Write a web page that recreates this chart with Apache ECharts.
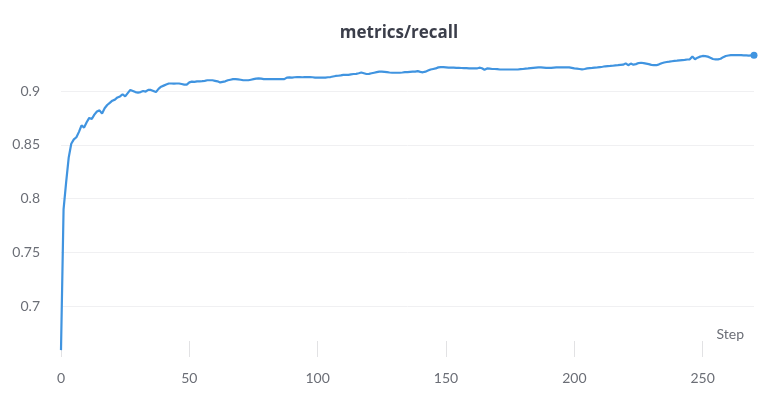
<!DOCTYPE html>
<html>
<head>
<meta charset="utf-8">
<script src="https://cdn.jsdelivr.net/npm/echarts@6/dist/echarts.min.js"></script>
<style>
html,body{margin:0;padding:0;background:#fff;}
#chart{width:768px;height:402px;}
</style>
</head>
<body>
<div id="chart"></div>
<script>
const chartTitle = "metrics/recall";
const xAxisName = "Step";
const xTicks = [0, 50, 100, 150, 200, 250];
const yTicks = [0.7, 0.75, 0.8, 0.85, 0.9];
const recall = [
  0.659, 0.79, 0.815, 0.838, 0.851, 0.855, 0.857, 0.862, 0.868, 0.866,
  0.871, 0.875, 0.874, 0.878, 0.881, 0.882, 0.879, 0.884, 0.887, 0.889,
  0.891, 0.892, 0.894, 0.895, 0.897, 0.895, 0.898, 0.901, 0.900, 0.899,
  0.8985, 0.899, 0.900, 0.8995, 0.901, 0.901, 0.900, 0.899, 0.902, 0.904,
  0.905, 0.906, 0.907, 0.907, 0.9068, 0.907, 0.907, 0.9065, 0.906, 0.906,
  0.908, 0.9087, 0.9085, 0.909, 0.909, 0.9092, 0.9095, 0.910, 0.910, 0.910,
  0.9095, 0.909, 0.908, 0.9085, 0.909, 0.910, 0.9105, 0.911, 0.911, 0.9108,
  0.9105, 0.910, 0.910, 0.910, 0.9105, 0.911, 0.9115, 0.9118, 0.9115, 0.911,
  0.911, 0.911, 0.911, 0.911, 0.911, 0.911, 0.911, 0.911, 0.9125, 0.9127,
  0.9125, 0.9128, 0.913, 0.913, 0.9128, 0.913, 0.913, 0.913, 0.9128, 0.9125,
  0.9125, 0.9125, 0.9124, 0.9124, 0.9128, 0.913, 0.9135, 0.914, 0.9142, 0.9145,
  0.915, 0.915, 0.915, 0.9155, 0.9158, 0.916, 0.9165, 0.9172, 0.9165, 0.9158,
  0.916, 0.9165, 0.917, 0.9175, 0.918, 0.918, 0.9178, 0.9175, 0.9172, 0.917,
  0.917, 0.917, 0.917, 0.9172, 0.9175, 0.9175, 0.9178, 0.918, 0.918, 0.9185,
  0.9178, 0.9174, 0.918, 0.919, 0.920, 0.9205, 0.921, 0.922, 0.9223, 0.9222,
  0.922, 0.9217, 0.9217, 0.9217, 0.9215, 0.9215, 0.9214, 0.9213, 0.9212, 0.9211,
  0.921, 0.921, 0.921, 0.9217, 0.9212, 0.9198, 0.921, 0.9208, 0.9205, 0.9205,
  0.9203, 0.920, 0.920, 0.920, 0.920, 0.920, 0.920, 0.920, 0.920, 0.9203,
  0.9205, 0.9208, 0.921, 0.9213, 0.9216, 0.9218, 0.922, 0.922, 0.9218, 0.9216,
  0.9215, 0.9216, 0.9218, 0.922, 0.922, 0.922, 0.922, 0.922, 0.922, 0.9215,
  0.921, 0.9208, 0.9205, 0.9202, 0.9205, 0.921, 0.9213, 0.9215, 0.9218, 0.922,
  0.9223, 0.9226, 0.923, 0.9232, 0.9233, 0.9235, 0.9238, 0.924, 0.9243, 0.9245,
  0.9257, 0.924, 0.9255, 0.9245, 0.925, 0.926, 0.9263, 0.926, 0.9255, 0.925,
  0.9243, 0.924, 0.924, 0.9248, 0.9258, 0.9265, 0.927, 0.9273, 0.9277, 0.928,
  0.9282, 0.9285, 0.9288, 0.929, 0.9293, 0.9295, 0.932, 0.9295, 0.931, 0.932,
  0.9326, 0.9325, 0.932, 0.931, 0.9298, 0.9295, 0.9295, 0.930, 0.9315, 0.9326,
  0.933, 0.9334, 0.9335, 0.9334, 0.9333, 0.9333, 0.9332, 0.9331, 0.933, 0.9331,
  0.9332
];
const steps = recall.map((v, i) => i);

const FONT = 'Lato, "Noto Sans", sans-serif';
const TITLE_FONT = '"Open Sans", Lato, sans-serif';
const chart = echarts.init(document.getElementById('chart'), null, {renderer: 'canvas'});
const lastIdx = recall.length - 1;
chart.setOption({
  animation: false,
  backgroundColor: '#ffffff',
  title: {
    text: chartTitle,
    left: 394, top: 20, textAlign: 'center',
    textStyle: {fontFamily: TITLE_FONT, fontSize: 17, fontWeight: 'bold', color: '#3b3e4a'}
  },
  grid: {left: 61, right: 14, top: 45, bottom: 45, containLabel: false},
  xAxis: {
    type: 'value',
    min: xTicks[0], max: 270, interval: 50,
    name: xAxisName,
    nameLocation: 'end',
    nameGap: -10,
    nameTextStyle: {fontFamily: FONT, fontSize: 14, color: '#6b6e76', align: 'right', verticalAlign: 'bottom', padding: [0, 0, 16, 0]},
    axisLine: {show: false},
    axisTick: {show: true, inside: true, length: 16, lineStyle: {color: '#e2e2e4', width: 1}},
    axisLabel: {fontFamily: FONT, fontSize: 14, color: '#6b6e76', margin: 14, showMaxLabel: false,
      formatter: v => xTicks.includes(v) ? String(v) : ''},
    splitLine: {show: false}
  },
  yAxis: {
    type: 'value',
    min: 0.6526, max: 0.9428,
    splitNumber: 6,
    axisLine: {show: false},
    axisTick: {show: false},
    axisLabel: {fontFamily: FONT, fontSize: 14, color: '#6b6e76', margin: 21, showMinLabel: false, showMaxLabel: false,
      formatter: v => {
        const m = yTicks.find(t => Math.abs(t - v) < 1e-6);
        return m !== undefined ? String(m) : '';
      }},
    splitLine: {show: true, showMinLine: false, showMaxLine: false, lineStyle: {color: '#f0f0f2', width: 1}}
  },
  series: [{
    type: 'line',
    data: steps.map((s, i) => [s, recall[i]]),
    showSymbol: false,
    symbol: 'circle',
    symbolSize: 7,
    lineStyle: {color: '#4094e0', width: 2.2},
    itemStyle: {color: '#4094e0'},
    markPoint: {
      symbol: 'circle', symbolSize: 7,
      itemStyle: {color: '#4094e0'},
      label: {show: false},
      data: [{coord: [steps[lastIdx], recall[lastIdx]]}]
    }
  }]
});
</script>
</body>
</html>
